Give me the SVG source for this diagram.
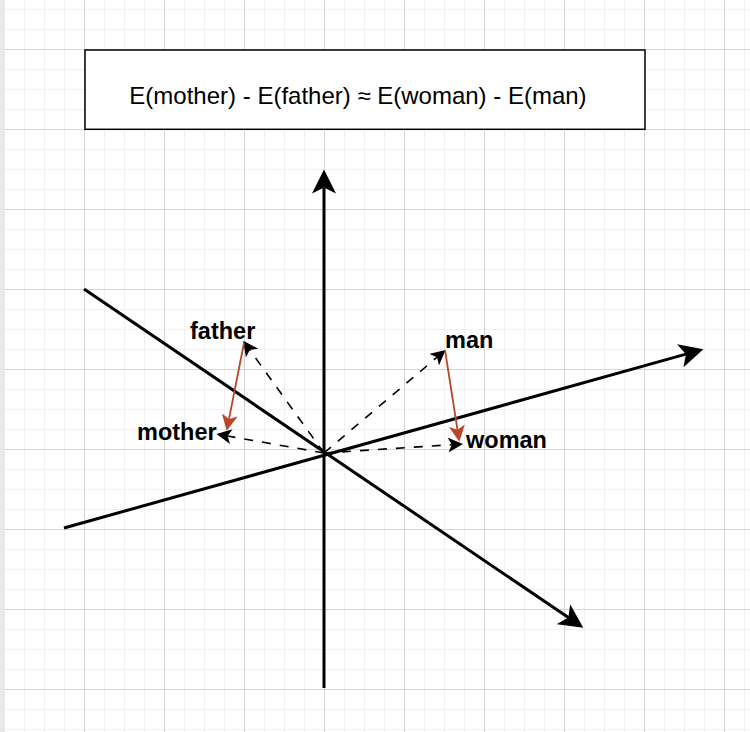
<svg xmlns="http://www.w3.org/2000/svg" width="750" height="732" viewBox="0 0 750 732">
<style>
.lbl{font-family:"Liberation Sans",Arial,sans-serif;font-weight:bold;font-size:23.5px;fill:#000}
.ttl{font-family:"Liberation Sans",Arial,sans-serif;font-size:24px;fill:#000}
.axis{stroke:#000;stroke-width:3;fill:none}
.dash{stroke:#000;stroke-width:1.6;fill:none;stroke-dasharray:9 9}
.red{stroke:#b9452a;stroke-width:1.8;fill:none}
</style>
<defs>
<pattern id="minor" x="4" y="9" width="20" height="20" patternUnits="userSpaceOnUse">
<path d="M0.5 0V20M0 0.5H20" stroke="#f1f1f1" stroke-width="1" fill="none"/>
</pattern>
<pattern id="major" x="4" y="49" width="80" height="80" patternUnits="userSpaceOnUse">
<path d="M0.5 0V80M0 0.5H80" stroke="#d3d3d3" stroke-width="1" fill="none"/>
</pattern>
<marker id="axisHead" markerUnits="userSpaceOnUse" viewBox="0 0 24 24" markerWidth="24" markerHeight="24" refX="6" refY="12" orient="auto">
<path d="M0,0 L24,12 L0,24 L6,12 Z" fill="#000"/>
</marker>
<marker id="dashHead" markerUnits="userSpaceOnUse" viewBox="0 0 15 15" markerWidth="15" markerHeight="15" refX="3.75" refY="7.5" orient="auto">
<path d="M0,0 L15,7.5 L0,15 L3.75,7.5 Z" fill="#000"/>
</marker>
<marker id="redHead" markerUnits="userSpaceOnUse" viewBox="0 0 16 16" markerWidth="16" markerHeight="16" refX="4" refY="8" orient="auto">
<path d="M0,0 L16,8 L0,16 L4,8 Z" fill="#b9452a"/>
</marker>
</defs>
<rect width="750" height="732" fill="#fff"/>
<rect x="5" width="745" height="732" fill="url(#minor)"/>
<rect x="5" width="745" height="732" fill="url(#major)"/>
<rect x="0" y="0" width="5" height="732" fill="#e9e9e9"/>
<g id="title">
<rect x="85" y="50" width="560" height="79.3" fill="#fff" stroke="#000" stroke-width="1.5"/>
<text class="ttl" x="358" y="104" text-anchor="middle">E(mother) - E(father) ≈ E(woman) - E(man)</text>
</g>
<g id="connectors">
<path class="axis" d="M324,688 L324,187.5" marker-end="url(#axisHead)"/>
<path class="axis" d="M64,528 L686,354.15" marker-end="url(#axisHead)"/>
<path class="axis" d="M84,289 L568.4,617.6" marker-end="url(#axisHead)"/>
<path class="dash" d="M324,453 L249.8,350" marker-end="url(#dashHead)"/>
<path class="dash" d="M324,453 L227.6,436" marker-end="url(#dashHead)"/>
<path class="dash" d="M324,453 L437,357.3" marker-end="url(#dashHead)"/>
<path class="dash" d="M324,453 L451.8,444.7" marker-end="url(#dashHead)"/>
<path class="red" d="M244,343 L229,418.9" marker-end="url(#redHead)"/>
<path class="red" d="M445,350 L457.5,429.8" marker-end="url(#redHead)"/>
</g>
<g id="father"><text class="lbl" x="190" y="339">father</text></g>
<g id="mother"><text class="lbl" x="137" y="440">mother</text></g>
<g id="man"><text class="lbl" x="445" y="348">man</text></g>
<g id="woman"><text class="lbl" x="466" y="448">woman</text></g>
</svg>
